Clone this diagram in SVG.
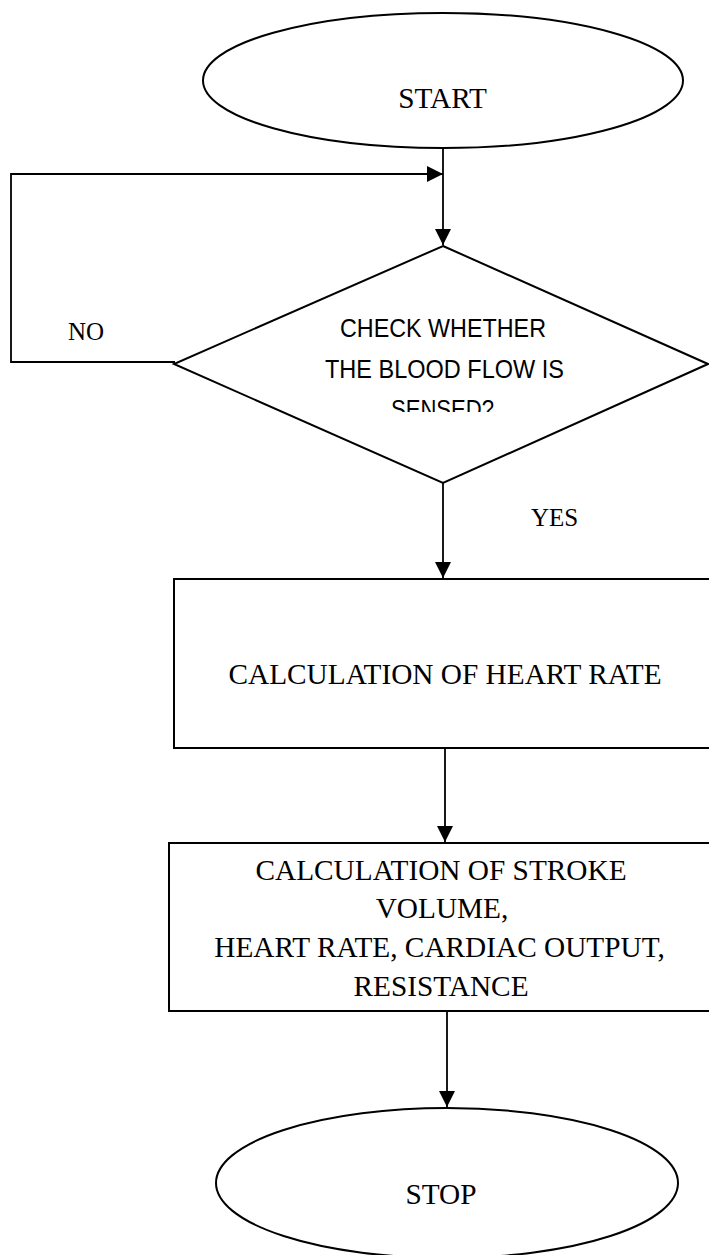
<svg xmlns="http://www.w3.org/2000/svg" width="709" height="1255" viewBox="0 0 709 1255">
<style>
.shape{fill:#fff;stroke:#000;stroke-width:2}
.line{fill:none;stroke:#000;stroke-width:1.8}
.serif{font-family:"Liberation Serif","Times New Roman",serif;font-size:29.3px;fill:#000;text-anchor:middle}
.lbl{font-family:"Liberation Serif","Times New Roman",serif;font-size:25px;fill:#000}
.narrow{font-family:"Liberation Sans Narrow","Arial Narrow","Liberation Sans",sans-serif;font-size:26.5px;fill:#000;text-anchor:middle}
</style>
<defs>
<marker id="arr" viewBox="0 0 16 16" refX="16" refY="8" markerWidth="16" markerHeight="16" markerUnits="userSpaceOnUse" orient="auto">
<path d="M0,0 L16,8 L0,16 Z" fill="#000"/>
</marker>
<clipPath id="dclip"><rect x="170" y="300" width="540" height="112"/></clipPath>
</defs>
<rect width="709" height="1255" fill="#fff"/>
<g id="start">
<ellipse class="shape" cx="443" cy="80.5" rx="240" ry="67.5"/>
<text class="serif" x="442.5" y="108">START</text>
</g>
<g id="decision">
<polygon class="shape" points="443,246 708,364 443,483 174,364"/>
<g clip-path="url(#dclip)">
<text class="narrow" x="443" y="337" textLength="206" lengthAdjust="spacingAndGlyphs">CHECK WHETHER</text>
<text class="narrow" x="444.5" y="378" textLength="239" lengthAdjust="spacingAndGlyphs">THE BLOOD FLOW IS</text>
<text class="narrow" x="442.5" y="418" textLength="103" lengthAdjust="spacingAndGlyphs">SENSED?</text>
</g>
</g>
<g id="heartrate">
<rect class="shape" x="174" y="579" width="540" height="169"/>
<text class="serif" x="445" y="684">CALCULATION OF HEART RATE</text>
</g>
<g id="calc">
<rect class="shape" x="169" y="843" width="545" height="168"/>
<text class="serif" x="441" y="880">CALCULATION OF STROKE</text>
<text class="serif" x="442" y="918">VOLUME,</text>
<text class="serif" x="439.5" y="957">HEART RATE, CARDIAC OUTPUT,</text>
<text class="serif" x="441" y="996">RESISTANCE</text>
</g>
<g id="stop">
<ellipse class="shape" cx="447" cy="1183" rx="231" ry="75"/>
<text class="serif" x="441" y="1204">STOP</text>
</g>
<g id="connectors">
<line class="line" x1="443" y1="148" x2="443" y2="245" marker-end="url(#arr)"/>
<polyline class="line" points="175,362 11,362 11,174 443,174" marker-end="url(#arr)"/>
<line class="line" x1="443" y1="483" x2="443" y2="578" marker-end="url(#arr)"/>
<line class="line" x1="445" y1="748" x2="445" y2="842" marker-end="url(#arr)"/>
<line class="line" x1="447" y1="1011" x2="447" y2="1107" marker-end="url(#arr)"/>
<text class="lbl" x="68" y="340">NO</text>
<text class="lbl" x="531" y="526">YES</text>
</g>
</svg>
